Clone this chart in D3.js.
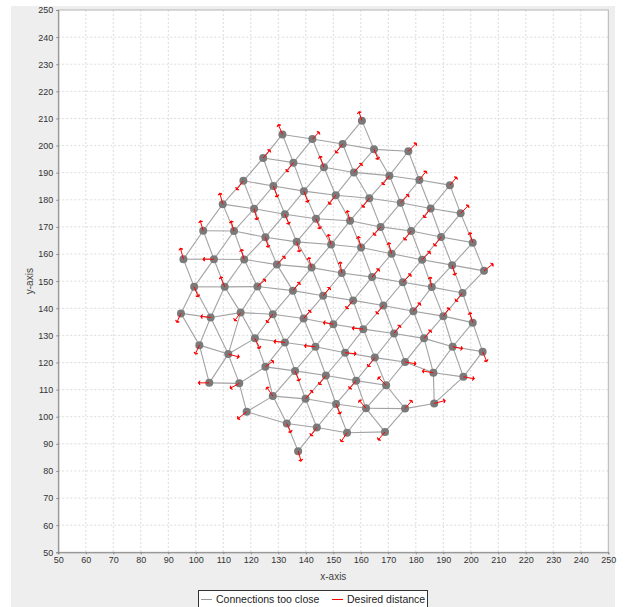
<!DOCTYPE html>
<html>
<head>
<meta charset="utf-8">
<script src="https://cdn.jsdelivr.net/npm/d3@7"></script>
<style>
  body { margin: 0; background: #fff; }
  svg { display: block; }
</style>
</head>
<body>
<script>
// mesh nodes: [lattice row, lattice column, x, y]
const nodes = [
  [0,2,160.4,209.2],
  [1,0,131.5,204.1],[1,1,142.4,202.4],[1,2,153.4,200.6],[1,3,164.8,198.6],[1,4,177.3,197.9],
  [2,0,124.5,195.4],[2,1,135.5,193.7],[2,2,146.6,192.0],[2,3,157.5,190.1],[2,4,170.4,188.9],[2,5,181.3,187.3],[2,6,192.4,185.4],
  [3,0,117.3,187.0],[3,1,128.2,185.1],[3,2,139.3,183.2],[3,3,150.9,181.7],[3,4,163.1,180.6],[3,5,174.5,178.9],[3,6,185.4,176.8],[3,7,196.3,175.0],
  [4,0,109.8,178.4],[4,1,121.2,176.7],[4,2,132.4,174.7],[4,3,143.7,173.0],[4,4,156.1,172.3],[4,5,167.2,170.0],[4,6,178.3,168.5],[4,7,189.2,166.3],[4,8,200.7,164.2],
  [5,0,102.7,168.6],[5,1,113.9,168.5],[5,2,125.3,166.2],[5,3,136.7,164.5],[5,4,149.2,163.5],[5,5,160.1,162.4],[5,6,171.2,160.1],[5,7,182.3,157.9],[5,8,193.2,155.9],[5,9,204.8,153.8],
  [6,0,95.5,158.1],[6,1,106.6,158.1],[6,2,117.6,158.0],[6,3,129.5,156.1],[6,4,142.1,155.0],[6,5,153.1,153.0],[6,6,164.1,151.5],[6,7,175.3,149.6],[6,8,185.8,147.8],[6,9,197.0,145.6],
  [7,1,99.4,147.9],[7,2,110.5,147.9],[7,3,122.4,148.0],[7,4,135.3,146.5],[7,5,146.3,144.6],[7,6,157.2,142.9],[7,7,168.2,141.0],[7,8,179.1,138.9],[7,9,190.0,137.1],[7,10,200.7,134.7],
  [8,1,94.6,138.1],[8,2,105.4,136.6],[8,3,116.3,138.4],[8,4,128.0,137.8],[8,5,139.2,136.2],[8,6,150.0,134.1],[8,7,160.9,132.3],[8,8,172.1,130.7],[8,9,183.0,128.9],[8,10,193.4,125.8],[8,11,204.3,124.0],
  [9,2,101.3,126.4],[9,3,111.8,123.1],[9,4,121.5,128.9],[9,5,132.4,127.4],[9,6,143.5,125.8],[9,7,154.3,123.6],[9,8,165.1,121.8],[9,9,176.1,120.2],[9,10,186.4,116.2],[9,11,197.3,114.7],
  [10,3,104.9,112.5],[10,4,115.8,112.3],[10,5,125.3,118.4],[10,6,136.1,116.9],[10,7,147.3,115.2],[10,8,158.3,113.3],[10,9,169.2,111.6],[10,11,186.7,104.9],
  [11,5,118.5,101.8],[11,6,128.0,107.6],[11,7,139.9,106.6],[11,8,151.0,104.7],[11,9,161.9,103.1],[11,10,176.1,103.0],
  [12,7,133.1,97.5],[12,8,144.0,96.0],[12,9,155.0,94.1],[12,10,168.8,94.4],
  [13,8,137.2,87.3]
];

// desired distance vector of each node (same order as nodes), data units
const desired = [
  [-1.1,3.3],
  [-1.5,3.7],[2.5,2.6],[-2.5,-3.3],[1.5,-3.7],[2.9,3.0],
  [2.5,3.0],[-2.5,-3.3],[-1.5,4.1],[2.9,3.3],[-2.5,-3.3],[2.5,3.3],[2.5,3.0],
  [-2.5,-3.3],[1.5,-4.1],[1.5,-4.1],[-2.5,-3.3],[-2.5,-3.3],[2.9,3.0],[-2.5,-3.3],[2.9,3.0],
  [-1.1,4.1],[1.1,-4.1],[1.5,-3.7],[1.5,-3.7],[-1.1,3.7],[-2.5,-3.0],[-2.5,-3.3],[-2.5,-3.3],[-1.1,3.7],
  [-1.1,3.7],[-1.1,3.7],[1.1,-3.7],[1.1,-3.7],[-1.1,3.7],[-1.1,4.1],[-1.1,4.1],[2.9,3.0],[1.1,-3.7],[3.3,2.6],
  [-1.1,4.1],[-4.0,0],[-1.1,3.7],[2.9,3.0],[-1.1,3.7],[-0.7,4.1],[2.5,3.0],[2.9,3.0],[-0.7,3.7],[-2.5,-3.0],
  [1.5,-3.7],[-1.5,3.7],[2.9,2.6],[2.5,3.0],[2.5,3.0],[-2.5,-3.0],[-2.5,-3.0],[2.5,3.0],[2.2,3.0],[-1.1,3.7],
  [-1.5,-3.3],[-3.6,0.4],[-2.2,-3.0],[-2.2,-3.0],[2.5,3.0],[-3.6,0.7],[-4.0,0.4],[2.2,3.0],[2.5,3.0],[3.6,-0.7],[1.5,-3.7],
  [-1.5,-3.3],[4.0,-1.1],[1.8,-3.7],[-4.0,0.4],[-4.0,0.4],[4.0,-0.4],[-2.5,-3.3],[4.0,-0.7],[-4.0,0.7],[4.0,-0.7],
  [-4.0,0],[-3.3,-1.8],[2.9,2.2],[1.5,-3.7],[-2.5,-3.3],[-2.5,-3.0],[-2.9,3.0],[4.0,1.1],
  [-3.3,-2.6],[-2.2,3.3],[2.5,3.0],[1.5,-3.7],[-2.5,3.0],[2.5,3.0],
  [1.5,-3.3],[-2.2,-3.0],[-2.2,-3.3],[-2.5,-3.0],
  [1.1,-3.7]
];

// connections: right, down-left and down-right neighbours in the lattice
const neighbourSteps = [[0,1],[1,0],[1,1]];
const extraLinks = [["11,5","12,7"],["11,10","10,11"]];
const missingLinks = [["9,4","10,4"],["10,5","11,5"]];

const xTicks = d3.range(50, 251, 10);
const yTicks = d3.range(50, 251, 10);
const legendLabels = ["Connections too close", "Desired distance"];

const width = 631, height = 607;
const plotLeft = 58.3, plotRight = 608.3, plotTop = 10, plotBottom = 552.3;

const x = d3.scaleLinear().domain([50, 250]).range([plotLeft, plotRight]);
const y = d3.scaleLinear().domain([50, 250]).range([plotBottom, plotTop]);

const svg = d3.select("body").append("svg")
  .attr("width", width)
  .attr("height", height)
  .style("font-family", "'Liberation Sans', Arial, sans-serif");

// chart panel and plot area
svg.append("rect").attr("x", 11).attr("y", 6).attr("width", 604).attr("height", height)
  .attr("fill", "#eeeeee");
svg.append("rect").attr("x", plotLeft).attr("y", plotTop)
  .attr("width", plotRight - plotLeft).attr("height", plotBottom - plotTop)
  .attr("fill", "#fff");

// grid
const grid = svg.append("g").attr("stroke", "#dcdcdc").attr("stroke-dasharray", "2,2").attr("stroke-width", 1);
grid.selectAll(".gx").data(xTicks.slice(1, -1)).join("line")
  .attr("x1", d => x(d)).attr("x2", d => x(d)).attr("y1", plotTop).attr("y2", plotBottom);
grid.selectAll(".gy").data(yTicks.slice(1, -1)).join("line")
  .attr("y1", d => y(d)).attr("y2", d => y(d)).attr("x1", plotLeft).attr("x2", plotRight);

svg.append("rect").attr("x", plotLeft).attr("y", plotTop)
  .attr("width", plotRight - plotLeft).attr("height", plotBottom - plotTop)
  .attr("fill", "none").attr("stroke", "#b4b4b4");

// axes
const xAxis = svg.append("g")
  .attr("transform", `translate(0,${plotBottom})`)
  .call(d3.axisBottom(x).tickValues(xTicks).tickSize(2).tickPadding(2).tickFormat(d3.format("d")));
const yAxis = svg.append("g")
  .attr("transform", `translate(${plotLeft},0)`)
  .call(d3.axisLeft(y).tickValues(yTicks).tickSize(2).tickPadding(3).tickFormat(d3.format("d")));
[xAxis, yAxis].forEach(a => {
  a.selectAll("path,line").attr("stroke", "#888");
  a.selectAll("text").attr("fill", "#333").style("font-size", "9px");
});

svg.append("text").attr("x", (plotLeft + plotRight) / 2).attr("y", 580)
  .attr("text-anchor", "middle").attr("fill", "#444").style("font-size", "10px").text("x-axis");
svg.append("text").attr("transform", `translate(33,${(plotTop + plotBottom) / 2}) rotate(-90)`)
  .attr("text-anchor", "middle").attr("fill", "#444").style("font-size", "10px").text("y-axis");

// links
const key = (r, c) => r + "," + c;
const byKey = new Map(nodes.map(n => [key(n[0], n[1]), n]));
const drop = new Set(missingLinks.map(l => l.join("|")));
const links = [];
nodes.forEach(n => {
  neighbourSteps.forEach(([dr, dc]) => {
    const k = key(n[0] + dr, n[1] + dc);
    if (byKey.has(k) && !drop.has(key(n[0], n[1]) + "|" + k)) links.push([n, byKey.get(k)]);
  });
});
extraLinks.forEach(([a, b]) => links.push([byKey.get(a), byKey.get(b)]));

svg.append("g").attr("stroke", "#a2a2a2").attr("stroke-width", 1.1)
  .selectAll("line").data(links).join("line")
  .attr("x1", d => x(d[0][2])).attr("y1", d => y(d[0][3]))
  .attr("x2", d => x(d[1][2])).attr("y2", d => y(d[1][3]));

// nodes
svg.append("g").attr("fill", "#7a7a7a")
  .selectAll("circle").data(nodes).join("circle")
  .attr("cx", d => x(d[2])).attr("cy", d => y(d[3])).attr("r", 4);

// desired distance vectors
function arrowHead(x0, y0, x1, y1) {
  const dxx = x1 - x0, dyy = y1 - y0;
  const bx = x0 + 0.90 * dxx, by = y0 + 0.90 * dyy;
  const cx = x0 + 0.86 * dxx, cy = y0 + 0.86 * dyy;
  const angle = dxx !== 0 ? Math.PI / 2 - Math.atan(dyy / dxx) : 0;
  const ddx = 2 * Math.cos(angle), ddy = 2 * Math.sin(angle);
  return `M${x1},${y1}L${cx - ddx},${cy + ddy}L${bx},${by}L${cx + ddx},${cy - ddy}Z`;
}
const vec = svg.append("g").attr("stroke", "#ff0000").attr("fill", "#ff0000").attr("stroke-width", 1)
  .selectAll("g").data(nodes.map((n, i) => ({ n, v: desired[i] }))).join("g");
vec.append("line")
  .attr("x1", d => x(d.n[2])).attr("y1", d => y(d.n[3]))
  .attr("x2", d => x(d.n[2] + d.v[0])).attr("y2", d => y(d.n[3] + d.v[1]));
vec.append("path")
  .attr("d", d => arrowHead(x(d.n[2]), y(d.n[3]), x(d.n[2] + d.v[0]), y(d.n[3] + d.v[1])));

// legend
const legend = svg.append("g");
legend.append("rect").attr("x", 198.5).attr("y", 590.5).attr("width", 229).attr("height", 24)
  .attr("fill", "#fff").attr("stroke", "#333");
const legendColors = ["#9a9a9a", "#ff0000"];
const legendX = [201, 332];
legendLabels.forEach((t, i) => {
  legend.append("line").attr("x1", legendX[i]).attr("x2", legendX[i] + 11).attr("y1", 599.5).attr("y2", 599.5)
    .attr("stroke", legendColors[i]);
  legend.append("text").attr("x", legendX[i] + 15).attr("y", 603).attr("fill", "#222")
    .style("font-size", "10.5px").text(t);
});
</script>
</body>
</html>
